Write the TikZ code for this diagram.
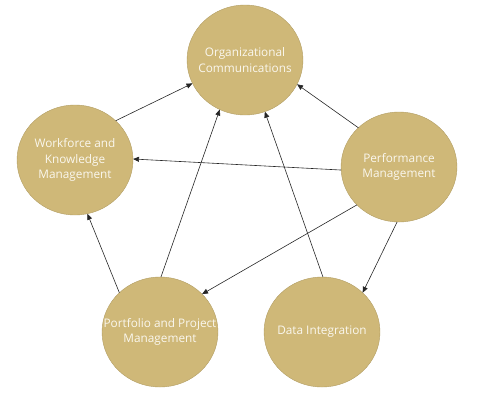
\documentclass[tikz,border=0pt]{standalone}
\usepackage{fontspec}
\setmainfont{Open Sans}
\usetikzlibrary{positioning}
\usetikzlibrary{shapes.geometric}
\usetikzlibrary{arrows.meta}
\definecolor{goldfill}{RGB}{207,184,120}
\definecolor{golddraw}{RGB}{178,158,100}
\definecolor{textcream}{RGB}{250,247,238}

\begin{document}
\begin{tikzpicture}[%
	x=1pt, y=-1pt,
	base/.style={ellipse, draw=golddraw, fill=goldfill, align=center, outer sep=0pt,
		minimum width=116pt, minimum height=110pt, inner xsep=-30pt, inner ysep=0pt,
		text=textcream, font=\fontsize{11.8}{15.5}\selectfont},
	bubble/.style={base},%
	arrow/.style={color=black!85, line width=0.6pt, arrows={-Triangle[length=6pt, width=5pt]}}%
	]
	\useasboundingbox (0,0) rectangle (493,400);
	%
	% Nodes
	%
	\node[bubble] (ORG) at (245,60) {Organizational\\ Communications};
	\node[bubble] (WORK) at (75,160) {Workforce and\\ Knowledge\\ Management};
	\node[bubble] (PERF) at (399,167) {Performance\\ Management};
	\node[bubble] (PORT) at (160,332) {Portfolio and Project\\ Management};
	\node[bubble, right=46pt of PORT] (DATA) {Data Integration};
	%
	% Connectors
	%
	\path[arrow] (WORK.44) edge (ORG.204);
	\path[arrow] (PERF.136) edge (ORG.335);
	\path[arrow] (PERF.183) edge (WORK.1);
	\path[arrow] (PERF.222) edge (PORT.42);
	\path[arrow] (PERF.268) edge (DATA.44);
	\path[arrow] (PORT.136) edge (WORK.283);
	\path[arrow] (PORT.89) edge (ORG.243);
	\path[arrow] (DATA.89) edge (ORG.291);
\end{tikzpicture}
\end{document}
